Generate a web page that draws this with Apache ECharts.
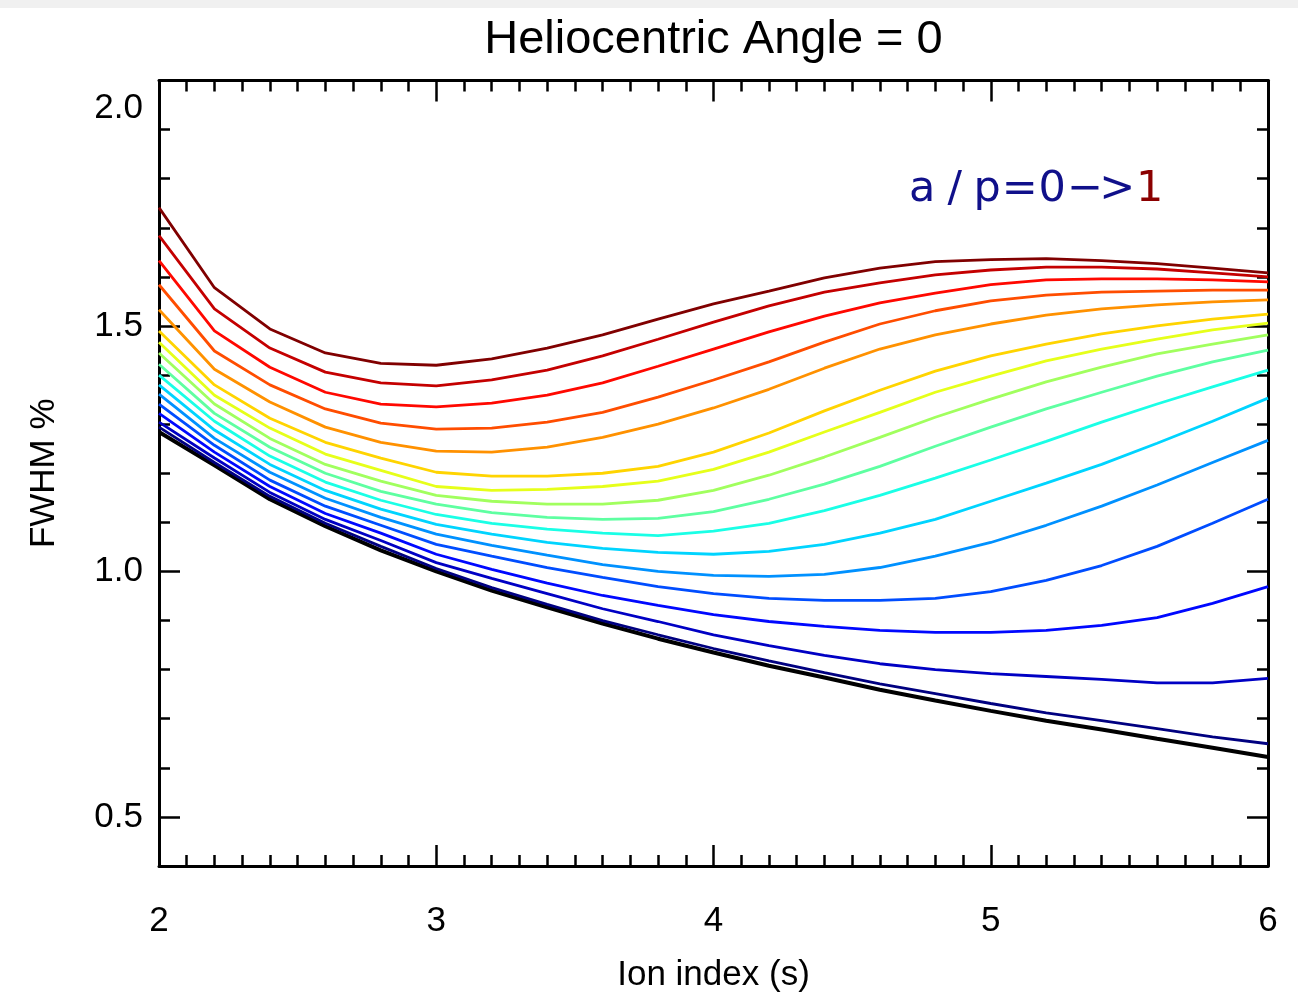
<!DOCTYPE html>
<html>
<head>
<meta charset="utf-8">
<script src="https://cdn.jsdelivr.net/npm/echarts@6/dist/echarts.min.js"></script>
<style>
  html, body { margin: 0; padding: 0; background: #fff; }
  #chart { position: absolute; left: 0; top: 0; width: 1298px; height: 998px; }
  #band { position: absolute; left: 0; top: 0; width: 1298px; height: 8px; background: #f0f0f0; }
</style>
</head>
<body>
<div id="chart"></div>
<div id="band"></div>
<script>
// ion index s, sampled every 0.2
const ionIndex = [2.0, 2.2, 2.4, 2.6, 2.8, 3.0, 3.2, 3.4, 3.6, 3.8, 4.0, 4.2, 4.4, 4.6, 4.8, 5.0, 5.2, 5.4, 5.6, 5.8, 6.0];

// thick black reference curve
const fwhmBlack = [1.284, 1.216, 1.147, 1.092, 1.043, 1.000, 0.961, 0.927, 0.894, 0.863, 0.835, 0.808, 0.784, 0.759, 0.737, 0.716, 0.696, 0.678, 0.659, 0.641, 0.622];

// a/p = 0 -> 1, bottom (navy) to top (dark red)
const fwhmAp00 = [1.294, 1.222, 1.153, 1.098, 1.051, 1.006, 0.967, 0.933, 0.900, 0.871, 0.843, 0.818, 0.794, 0.771, 0.751, 0.731, 0.712, 0.696, 0.680, 0.663, 0.649];
const fwhmAp01 = [1.304, 1.231, 1.161, 1.106, 1.063, 1.018, 0.986, 0.955, 0.924, 0.898, 0.871, 0.849, 0.829, 0.812, 0.800, 0.792, 0.786, 0.780, 0.773, 0.773, 0.782];
const fwhmAp02 = [1.322, 1.243, 1.173, 1.118, 1.078, 1.035, 1.004, 0.976, 0.951, 0.931, 0.912, 0.898, 0.888, 0.880, 0.876, 0.876, 0.880, 0.890, 0.906, 0.935, 0.969];
const fwhmAp03 = [1.341, 1.257, 1.186, 1.133, 1.094, 1.055, 1.031, 1.008, 0.988, 0.969, 0.955, 0.945, 0.941, 0.941, 0.945, 0.959, 0.982, 1.012, 1.051, 1.098, 1.147];
const fwhmAp04 = [1.361, 1.271, 1.202, 1.149, 1.110, 1.076, 1.053, 1.033, 1.014, 1.000, 0.992, 0.990, 0.994, 1.008, 1.031, 1.059, 1.094, 1.133, 1.176, 1.222, 1.267];
const fwhmAp05 = [1.380, 1.288, 1.218, 1.165, 1.127, 1.096, 1.076, 1.059, 1.047, 1.039, 1.035, 1.041, 1.055, 1.078, 1.106, 1.143, 1.180, 1.218, 1.261, 1.306, 1.353];
const fwhmAp06 = [1.400, 1.306, 1.235, 1.182, 1.145, 1.116, 1.098, 1.086, 1.078, 1.073, 1.082, 1.098, 1.124, 1.155, 1.190, 1.227, 1.265, 1.304, 1.341, 1.376, 1.410];
const fwhmAp07 = [1.422, 1.322, 1.253, 1.200, 1.163, 1.137, 1.120, 1.110, 1.106, 1.108, 1.122, 1.147, 1.178, 1.214, 1.255, 1.294, 1.331, 1.365, 1.398, 1.427, 1.451];
const fwhmAp08 = [1.445, 1.341, 1.271, 1.218, 1.184, 1.155, 1.143, 1.137, 1.137, 1.145, 1.165, 1.196, 1.233, 1.273, 1.314, 1.351, 1.386, 1.416, 1.443, 1.463, 1.482];
const fwhmAp09 = [1.467, 1.359, 1.292, 1.239, 1.206, 1.173, 1.165, 1.167, 1.173, 1.184, 1.208, 1.243, 1.284, 1.324, 1.365, 1.398, 1.429, 1.453, 1.473, 1.492, 1.506];
const fwhmAp10 = [1.490, 1.380, 1.312, 1.263, 1.231, 1.202, 1.194, 1.194, 1.200, 1.214, 1.243, 1.282, 1.327, 1.369, 1.408, 1.439, 1.463, 1.484, 1.500, 1.514, 1.524];
const fwhmAp11 = [1.533, 1.412, 1.345, 1.294, 1.263, 1.245, 1.243, 1.253, 1.273, 1.300, 1.333, 1.371, 1.414, 1.453, 1.482, 1.504, 1.522, 1.535, 1.543, 1.549, 1.553];
const fwhmAp12 = [1.584, 1.449, 1.380, 1.331, 1.302, 1.290, 1.292, 1.304, 1.324, 1.355, 1.390, 1.427, 1.467, 1.504, 1.531, 1.551, 1.563, 1.569, 1.571, 1.573, 1.573];
const fwhmAp13 = [1.633, 1.490, 1.416, 1.365, 1.341, 1.335, 1.343, 1.359, 1.384, 1.418, 1.453, 1.488, 1.520, 1.547, 1.567, 1.584, 1.594, 1.596, 1.596, 1.594, 1.590];
const fwhmAp14 = [1.684, 1.535, 1.455, 1.406, 1.384, 1.378, 1.390, 1.410, 1.439, 1.473, 1.508, 1.541, 1.569, 1.588, 1.604, 1.614, 1.620, 1.620, 1.616, 1.608, 1.600];
const fwhmAp15 = [1.741, 1.578, 1.494, 1.445, 1.424, 1.420, 1.433, 1.455, 1.482, 1.514, 1.545, 1.571, 1.598, 1.618, 1.631, 1.635, 1.637, 1.633, 1.627, 1.618, 1.608];

const apCurves = [fwhmAp00, fwhmAp01, fwhmAp02, fwhmAp03, fwhmAp04, fwhmAp05, fwhmAp06, fwhmAp07,
                  fwhmAp08, fwhmAp09, fwhmAp10, fwhmAp11, fwhmAp12, fwhmAp13, fwhmAp14, fwhmAp15];

// jet-like rainbow, one per curve
const apColors = ['#000080', '#0000c4', '#0008ff', '#004dff', '#0091ff', '#00d4ff', '#1affe6', '#5effa1',
                  '#a1ff5e', '#e6ff1a', '#ffd400', '#ff9100', '#ff4d00', '#ff0800', '#c40000', '#800000'];

const yMajorTicks = [0.5, 1.0, 1.5, 2.0];

const FONT = '"Liberation Sans", Arial, Helvetica, sans-serif';
const LABEL_SIZE = 35;

function pairs(ys) {
  return ionIndex.map((x, i) => [x, ys[i]]);
}

const chart = echarts.init(document.getElementById('chart'));

const axisLine = { show: true, onZero: false, lineStyle: { color: '#000', width: 3 } };
const tickStyle = { color: '#000', width: 2.5 };

const xBase = {
  type: 'value', min: 2, max: 6, interval: 1,
  axisLine: axisLine,
  axisTick: { show: true, inside: true, length: 21, lineStyle: tickStyle },
  minorTick: { show: true, splitNumber: 10, length: 11, lineStyle: tickStyle },
  splitLine: { show: false },
  minorSplitLine: { show: false }
};

const yMinor = {
  type: 'value', min: 0.4, max: 2.0, interval: 0.1,
  axisLine: axisLine,
  axisTick: { show: true, inside: true, length: 11, lineStyle: tickStyle },
  axisLabel: { show: false },
  splitLine: { show: false }
};

const yMajor = {
  type: 'value', min: 0.4, max: 2.0,
  axisLine: { show: false },
  axisTick: { show: true, inside: true, length: 21, lineStyle: tickStyle, customValues: yMajorTicks },
  axisLabel: { show: false },
  splitLine: { show: false }
};

const series = [{
  type: 'line',
  name: 'reference',
  data: pairs(fwhmBlack),
  showSymbol: false,
  lineStyle: { color: '#000', width: 4 },
  z: 2
}];
apCurves.forEach((c, k) => {
  series.push({
    type: 'line',
    name: 'a/p ' + k,
    data: pairs(c),
    showSymbol: false,
    lineStyle: { color: apColors[k], width: 2.8 },
    z: 3
  });
});

chart.setOption({
  animation: false,
  backgroundColor: '#fff',
  grid: { left: 159, right: 30, top: 80.5, bottom: 132 },
  xAxis: [
    Object.assign({}, xBase, {
      position: 'bottom',
      axisLabel: { show: true, color: '#000', fontSize: LABEL_SIZE, fontFamily: FONT, margin: 38 },
      name: 'Ion index (s)',
      nameLocation: 'middle',
      nameGap: 92,
      nameTextStyle: { color: '#000', fontSize: LABEL_SIZE, fontFamily: FONT }
    }),
    Object.assign({}, xBase, { position: 'top', axisLabel: { show: false } })
  ],
  yAxis: [
    Object.assign({}, yMinor, { position: 'left' }),
    Object.assign({}, yMajor, {
      position: 'left',
      axisLabel: {
        show: true, customValues: yMajorTicks, color: '#000', fontSize: LABEL_SIZE, fontFamily: FONT,
        margin: 16, padding: [10, 0, 0, 0], verticalAlignMaxLabel: 'top',
        formatter: v => v.toFixed(1)
      },
      name: 'FWHM %',
      nameLocation: 'middle',
      nameGap: 97,
      nameTextStyle: { color: '#000', fontSize: LABEL_SIZE, fontFamily: FONT }
    }),
    Object.assign({}, yMinor, { position: 'right' }),
    Object.assign({}, yMajor, { position: 'right' })
  ],
  series: series,
  graphic: [
    {
      type: 'text', x: 713.5, y: 40, z: 10,
      style: {
        text: 'Heliocentric Angle = 0',
        fill: '#000', font: '47px ' + FONT,
        align: 'center', verticalAlign: 'middle', textAlign: 'center', textVerticalAlign: 'middle'
      }
    },
    {
      type: 'text', x: 1036, y: 190, z: 10,
      style: {
        text: '{c|a}{c|/}{c|p}{c|=}{c|0}{c|\u2212}{c|>}{r|1}',
        align: 'center', verticalAlign: 'middle', textAlign: 'center', textVerticalAlign: 'middle',
        rich: {
          c: { width: 32.5, align: 'center', fill: '#10108a', color: '#10108a', fontSize: 43, fontFamily: '"DejaVu Sans", sans-serif' },
          r: { width: 32.5, align: 'center', fill: '#8b0000', color: '#8b0000', fontSize: 43, fontFamily: '"DejaVu Sans", sans-serif' }
        }
      }
    }
  ]
});
</script>
</body>
</html>
